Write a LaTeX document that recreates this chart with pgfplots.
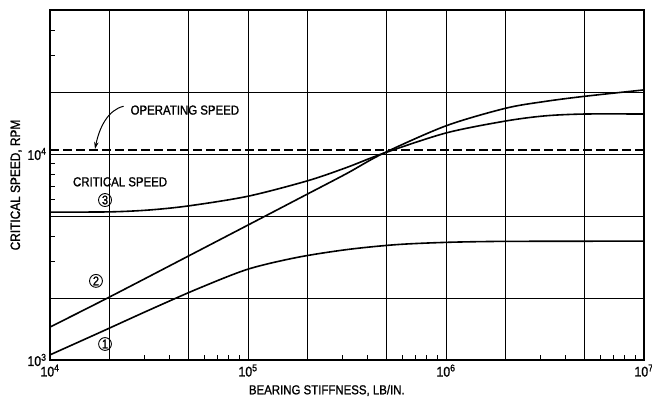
\documentclass[border=0pt]{standalone}
\usepackage{fontspec}
\setmainfont{Liberation Sans}[FakeStretch=0.88, FakeBold=1.2]
\usepackage{pgfplots}
\pgfplotsset{compat=1.18}
\usetikzlibrary{arrows.meta}
\begin{document}
\begin{tikzpicture}
\path[use as bounding box] (-50pt,-38pt) rectangle (602pt,360pt);
\begin{loglogaxis}[
  scale only axis, width=594pt, height=350pt,
  xmin=1e4, xmax=1e7, ymin=1e3, ymax=5e4,
  xtick={1e4,1e5,1e6,1e7},
  xticklabels={10\textsuperscript{4},10\textsuperscript{5},10\textsuperscript{6},10\textsuperscript{7}},
  ytick={1e3,1e4},
  yticklabels={10\textsuperscript{3},10\textsuperscript{4}},
  extra x ticks={2e4,5e4,2e5,5e5,2e6,5e6}, extra x tick labels={},
  extra y ticks={2e3,5e3,2e4}, extra y tick labels={},
  extra tick style={grid=major, major tick length=0pt},
  minor xtick={3e4,4e4,6e4,7e4,8e4,9e4,3e5,4e5,6e5,7e5,8e5,9e5,3e6,4e6,6e6,7e6,8e6,9e6},
  minor ytick={3e3,4e3,6e3,7e3,8e3,9e3,3e4,4e4},
  minor tick length=5pt, major tick length=0pt,
  grid=major, major grid style={black, line width=0.8pt},
  tick pos=left,
  axis line style={line width=1.5pt},
  tick style={black, line width=0.8pt},
  tick label style={font=\fontsize{14}{15}\selectfont},
  xticklabel style={yshift=-1pt},
  xlabel={BEARING STIFFNESS, LB/IN.},
  ylabel={CRITICAL SPEED, RPM},
  xlabel style={at={(axis description cs:0.466,-0.087)}, anchor=center, font=\fontsize{13}{14}\selectfont},
  ylabel style={at={(axis description cs:-0.057,0.5)}, anchor=center, rotate=0, font=\fontsize{13.5}{14}\selectfont},
]
% curve 1
\addplot[black, line width=1.6pt, smooth] coordinates {
(1e4,1059) (17783,1358) (31623,1746) (56234,2225) (1e5,2760) (177828,3150)
(316228,3436) (562341,3631) (1e6,3724) (1778279,3763) (3162278,3770) (1e7,3776)};
% curve 2 (steep, becomes upper)
\addplot[black, line width=1.6pt, smooth] coordinates {
(1e4,1445) (2e4,2023) (5.01e4,3199) (1e5,4519) (2e5,6397) (3.16e5,8050) (4.8e5,10050)
(1e6,13700) (2e6,16672) (3.16e6,17989) (5.01e6,19055) (1e7,20464)};
% curve 3 (shallow, becomes lower)
\addplot[black, line width=1.6pt, smooth] coordinates {
(1e4,5224) (2e4,5236) (3.16e4,5346) (5.01e4,5598) (1e5,6237) (2e5,7413) (3.16e5,8610)
(4.8e5,10050) (1e6,12647) (2e6,14454) (3.16e6,15311) (5.01e6,15631) (1e7,15631)};
% operating speed
\addplot[black, line width=1.5pt, dash pattern=on 9pt off 4pt] coordinates {(1e4,10450) (1e7,10450)};
\node[font=\fontsize{13}{14}\selectfont] at (rel axis cs:0.227,0.714) {OPERATING SPEED};
\draw[-{Stealth[length=7pt,width=4.5pt]}, line width=1pt]
  (rel axis cs:0.124,0.725) .. controls (rel axis cs:0.098,0.715) and (rel axis cs:0.083,0.665) .. (rel axis cs:0.0758,0.603);
\node[font=\fontsize{13}{14}\selectfont] at (rel axis cs:0.118,0.509) {CRITICAL SPEED};
\node[draw, circle, line width=0.9pt, inner sep=0.8pt, font=\fontsize{12.5}{12}\selectfont] at (rel axis cs:0.0926,0.457) {3};
\node[draw, circle, line width=0.9pt, inner sep=0.8pt, font=\fontsize{12.5}{12}\selectfont] at (rel axis cs:0.0774,0.226) {2};
\node[draw, circle, line width=0.9pt, inner sep=0.8pt, font=\fontsize{12.5}{12}\selectfont] at (rel axis cs:0.0926,0.0457) {1};
\end{loglogaxis}
\end{tikzpicture}
\end{document}
